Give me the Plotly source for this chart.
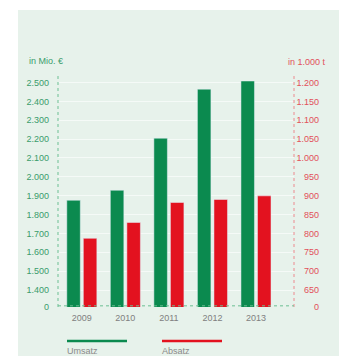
import plotly.graph_objects as go

years = ["2009", "2010", "2011", "2012", "2013"]
umsatz = [1876, 1929, 2205, 2465, 2508.2]      # in Mio. €
absatz = [787, 829, 882, 890, 899.6]           # in 1.000 t

left_ticks = [1310, 1400, 1500, 1600, 1700, 1800, 1900, 2000, 2100, 2200, 2300, 2400, 2500]
left_text = ["0", "1.400", "1.500", "1.600", "1.700", "1.800", "1.900", "2.000", "2.100",
             "2.200", "2.300", "2.400", "2.500"]
right_ticks = [605, 650, 700, 750, 800, 850, 900, 950, 1000, 1050, 1100, 1150, 1200]
right_text = ["0", "650", "700", "750", "800", "850", "900", "950", "1.000", "1.050",
              "1.100", "1.150", "1.200"]

GREEN = "#0b8a4f"
RED = "#e3121f"
BG = "#e7f2eb"
FONT = "Liberation Sans, Arial, sans-serif"
TXT_G = "#3a9c6c"
TXT_R = "#e2505a"

W, H = 339, 356
ML, MR, MT, MB = 58, 10, 75, 49
PW = W - ML - MR          # paper width in px
PH = H - MT - MB          # paper height in px
PLOT_R = 294              # right edge of plot area in px


def px(x):
    return (x - ML) / PW


def py(y):
    return (H - MB - y) / PH


fig = go.Figure()
fig.add_trace(go.Bar(x=years, y=umsatz, name="Umsatz", marker_color=GREEN,
                     width=0.31, offset=-0.345, yaxis="y"))
fig.add_trace(go.Bar(x=years, y=absatz, name="Absatz", marker_color=RED,
                     width=0.31, offset=0.035, yaxis="y2"))

shapes = [
    dict(type="rect", xref="paper", yref="paper", x0=px(18), x1=px(345), y0=py(360), y1=py(10),
         fillcolor=BG, line_width=0, layer="below"),
    # left axis dotted line
    dict(type="line", xref="x domain", yref="paper", x0=0, x1=0, y0=0, y1=1,
         line=dict(color="#6cbf93", width=1, dash="dot")),
    # right axis dotted line
    dict(type="line", xref="x domain", yref="paper", x0=1, x1=1, y0=0, y1=1,
         line=dict(color="#ec8a8f", width=1, dash="dot")),
    # baseline
    dict(type="line", xref="x domain", yref="paper", x0=0, x1=1, y0=0.005, y1=0.005,
         line=dict(color="#6cbf93", width=1, dash="dot")),
    # legend lines
    dict(type="line", xref="paper", yref="paper", x0=px(67), x1=px(127), y0=py(341), y1=py(341),
         line=dict(color=GREEN, width=2.5)),
    dict(type="line", xref="paper", yref="paper", x0=px(162), x1=px(222), y0=py(341), y1=py(341),
         line=dict(color=RED, width=2.5)),
]

annotations = [
    dict(text="in Mio. €", xref="paper", yref="paper", x=px(27), y=py(61), xanchor="left",
         yanchor="middle", showarrow=False, font=dict(size=9, color=TXT_G, family=FONT)),
    dict(text="in 1.000 t", xref="paper", yref="paper", x=px(328), y=py(62), xanchor="right",
         yanchor="middle", showarrow=False, font=dict(size=9, color=TXT_R, family=FONT)),
    dict(text="2.508,2", x=years[4], y=umsatz[4], xref="x", yref="y", xshift=-8.5,
         yanchor="bottom", yshift=0, showarrow=False,
         font=dict(size=9, color="#3a9c7c", family=FONT)),
    dict(text="899,6", x=years[4], y=absatz[4], xref="x", yref="y2", xshift=9,
         yanchor="bottom", yshift=0, showarrow=False,
         font=dict(size=9, color=TXT_R, family=FONT)),
    dict(text="Umsatz", xref="paper", yref="paper", x=px(65), y=py(351), xanchor="left",
         yanchor="middle", showarrow=False, font=dict(size=9, color="#8a8a8a", family=FONT)),
    dict(text="Absatz", xref="paper", yref="paper", x=px(160), y=py(351), xanchor="left",
         yanchor="middle", showarrow=False, font=dict(size=9, color="#8a8a8a", family=FONT)),
]

fig.update_layout(
    width=W, height=H,
    margin=dict(l=ML, r=MR, t=MT, b=MB, pad=0),
    paper_bgcolor="white",
    plot_bgcolor="rgba(0,0,0,0)",
    barmode="overlay",
    showlegend=False,
    font=dict(family=FONT, size=9),
    shapes=shapes,
    annotations=annotations,
    xaxis=dict(domain=[0, px(PLOT_R)], range=[-0.547, 4.873], showgrid=False, showline=False,
               zeroline=False, ticks="", tickfont=dict(size=9, color="#808080", family=FONT),
               ticklabelstandoff=4),
    yaxis=dict(range=[1310, 2540], tickvals=left_ticks, ticktext=left_text, showline=False,
               zeroline=False, ticks="", showgrid=True, gridcolor="rgba(255,255,255,0.6)",
               gridwidth=1, tickfont=dict(size=9, color=TXT_G, family=FONT),
               ticklabelstandoff=8),
    yaxis2=dict(range=[605, 1220], tickvals=right_ticks, ticktext=right_text, overlaying="y",
                side="left", anchor="free", position=px(319), showline=False, zeroline=False,
                ticks="", showgrid=False,
                tickfont=dict(size=9, color=TXT_R, family=FONT), ticklabelstandoff=0),
)

fig.write_html("out.html")
